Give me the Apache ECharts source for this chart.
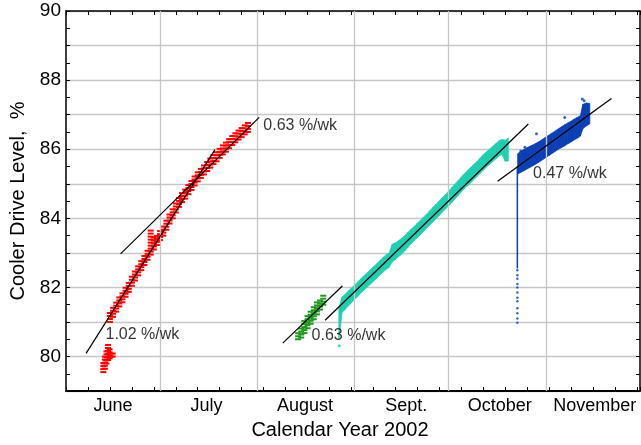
<!DOCTYPE html>
<html><head><meta charset="utf-8">
<script src="https://cdn.jsdelivr.net/npm/echarts@6/dist/echarts.min.js"></script>
<style>html,body{margin:0;padding:0;background:#fff}#c{width:641px;height:445px}</style>
</head><body><div id="c"></div><script>
// x values: days after 1 June 2002
const monthStarts = [30, 61, 92, 122, 153];
const monthLabelPos = [15, 44.8, 76.2, 108.5, 138.3, 168.6];
const monthNames = ['June', 'July', 'August', 'Sept.', 'October', 'November'];

// [day, low, high]
const redEarly = [[11.9,79.55,79.8],[12.4,79.65,80.0],[12.9,79.8,80.2],[13.4,79.9,80.35],[13.9,79.95,80.25],[14.4,80.0,80.15],[14.9,80.0,80.1]];
const redMain = [[14,81.0,81.25],[15,81.15,81.45],[16,81.3,81.6],[17,81.45,81.75],[18,81.57,81.87],[19,81.73,82.03],[20,81.87,82.17],[21,82.05,82.35],[22,82.2,82.5],[23,82.35,82.65],[24,82.5,82.8],[25,82.65,82.95],[26,82.8,83.1],[27,82.95,83.65],[28,83.1,83.5],[29,83.23,83.53],[30,83.37,83.67],[31,83.5,83.8],[32,83.67,83.97],[33,83.85,84.15],[34,84.0,84.3],[35,84.17,84.47],[36,84.33,84.63],[37,84.47,84.77],[38,84.57,84.87],[39,84.7,85.0],[40,84.82,85.12],[41,84.95,85.25],[42,85.07,85.37],[43,85.17,85.47],[44,85.27,85.57],[45,85.37,85.67],[46,85.47,85.77],[47,85.57,85.87],[48,85.65,85.95],[49,85.75,86.05],[50,85.85,86.15],[51,85.93,86.23],[52,86.03,86.33],[53,86.12,86.42],[54,86.2,86.5],[55,86.28,86.58],[56,86.35,86.65],[57,86.43,86.73],[58,86.5,86.77]];
const green = [[74,80.5,80.68],[75,80.55,80.88],[76,80.68,81.02],[77,80.82,81.17],[78,80.95,81.3],[79,81.08,81.43],[80,81.22,81.57],[81,81.36,81.68],[82,81.5,81.75]];
const cyan = [[87,80.5,81.42],[88,81.27,81.72],[89,81.37,81.8],[90,81.46,81.9],[91,81.56,81.98],[92,81.66,82.07],[93,81.74,82.16],[94,81.84,82.25],[95,81.92,82.34],[96,82.01,82.42],[97,82.09,82.51],[98,82.18,82.6],[99,82.26,82.68],[100,82.36,82.77],[101,82.44,82.86],[102,82.52,82.94],[103,82.58,82.99],[104,82.74,83.25],[105,82.81,83.29],[106,82.89,83.35],[107,82.96,83.42],[108,83.06,83.5],[109,83.16,83.59],[110,83.26,83.68],[111,83.36,83.76],[112,83.44,83.86],[113,83.53,83.94],[114,83.62,84.04],[115,83.72,84.12],[116,83.81,84.22],[117,83.9,84.32],[118,83.99,84.41],[119,84.08,84.5],[120,84.18,84.6],[121,84.27,84.69],[122,84.36,84.79],[123,84.46,84.89],[124,84.56,84.99],[125,84.66,85.09],[126,84.76,85.19],[127,84.86,85.29],[128,84.94,85.38],[129,85.03,85.47],[130,85.12,85.56],[131,85.21,85.64],[132,85.3,85.74],[133,85.39,85.84],[134,85.48,85.92],[135,85.56,86.0],[136,85.64,86.08],[137,85.72,86.16],[138,85.8,86.24],[139,85.86,86.28],[140,85.65,86.26],[141,85.66,86.32]];
const cyanOutliers = [[87.1,80.31]];
const blue = [[144,85.28,85.87],[145,85.33,85.94],[146,85.38,85.99],[147,85.43,86.04],[148,85.48,86.09],[149,85.53,86.13],[150,85.58,86.18],[151,85.64,86.23],[152,85.7,86.29],[153,85.76,86.35],[154,85.82,86.41],[155,85.88,86.47],[156,85.94,86.53],[157,86.0,86.59],[158,86.05,86.65],[159,86.1,86.71],[160,86.16,86.76],[161,86.21,86.81],[162,86.27,86.87],[163,86.32,86.92],[164,86.38,86.97],[164.8,86.6,87.3],[166,86.68,87.34],[167,86.74,87.32]];
const blueTailSolid = [[143.9,82.55],[143.9,85.5]];
const blueTailDots = [[143.9,82.5],[143.9,82.35],[143.9,82.25],[143.9,82.1],[143.9,82.0],[143.9,81.85],[143.9,81.7],[143.9,81.6],[143.9,81.4],[143.9,81.25],[143.9,81.1],[143.9,80.98]];
const blueOutliers = [[145,85.95],[146.3,86.06],[150,86.45],[159,86.92],[164.6,87.45],[165.2,87.4]];

// fitted trend lines
const fit1 = [[6.4,80.09],[47.5,85.99]];
const fit2 = [[17.4,82.97],[61.6,86.92]];
const fit3 = [[69.1,80.39],[88.1,82.04]];
const fit4 = [[82.6,81.05],[147.4,86.73]];
const fit5 = [[137.6,85.07],[173.9,87.47]];

const notes = ['1.02 %/wk', '0.63 %/wk', '0.63 %/wk', '0.47 %/wk'];
const noteX = [12.6, 62.9, 78.3, 148.9];
const noteY = [80.64, 86.68, 80.61, 85.29];

const FONT = '"Liberation Sans", Arial, Helvetica, sans-serif';
const RED = '#ff0000', GREEN = '#1e9a1e', CYAN = '#1ecfb0', BLUE = '#0b3fb4';

function bandItem(arr, color) {
  return function (params, api) {
    const i = params.dataIndex;
    if (i >= arr.length - 1) return null;
    const a = arr[i], b = arr[i + 1];
    const pts = [api.coord([a[0], a[1]]), api.coord([b[0], b[1]]), api.coord([b[0], b[2]]), api.coord([a[0], a[2]])];
    return { type: 'polygon', shape: { points: pts }, style: { fill: color, stroke: color, lineWidth: 0.8 } };
  };
}
function dashItem(color) {
  return function (params, api) {
    const p = api.coord([api.value(0), api.value(1)]);
    const top = api.coord([api.value(0), api.value(2)])[1];
    const children = [];
    for (let y = p[1]; y >= top - 0.5; y -= 3) {
      children.push({ type: 'rect', shape: { x: p[0] - 3, y: y - 1, width: 6, height: 2 }, style: { fill: color, stroke: 'none', lineWidth: 0 } });
    }
    return { type: 'group', children: children };
  };
}
function dashSeries(arr, color) {
  return { type: 'custom', data: arr, encode: { x: 0, y: [1, 2] }, renderItem: dashItem(color), clip: true, z: 3, silent: true, itemStyle: { color: color }, label: { show: false } };
}
function bandSeries(arr, color) {
  return { type: 'custom', data: arr, encode: { x: 0, y: [1, 2] }, renderItem: bandItem(arr, color), clip: true, z: 3, silent: true, itemStyle: { color: color }, label: { show: false } };
}
function fitSeries(arr) {
  return { type: 'line', data: arr, symbol: 'none', lineStyle: { color: '#000', width: 1.2 }, z: 6, silent: true };
}
function dotSeries(arr, color, size) {
  return { type: 'scatter', data: arr, symbol: 'circle', symbolSize: size, itemStyle: { color: color }, z: 3, silent: true };
}

const axisCommon = {
  axisLine: { show: true, onZero: false, lineStyle: { color: '#000', width: 1.5 } },
  axisTick: { show: true, inside: true, length: 4, lineStyle: { color: '#000', width: 1 } }
};

const option = {
  animation: false,
  backgroundColor: '#fff',
  grid: { left: 66, top: 11, right: 1, bottom: 52, containLabel: false },
  xAxis: [
    Object.assign({}, axisCommon, {
      type: 'value', min: 0, max: 183, interval: 7, position: 'bottom',
      axisLine: { show: true, onZero: false, lineStyle: { color: '#000', width: 1.8 } },
      splitLine: { show: false },
      axisLabel: { customValues: monthLabelPos, formatter: function (v) { const k = monthLabelPos.indexOf(v); return k >= 0 ? monthNames[k] : ''; }, fontSize: 18, color: '#000', fontFamily: FONT, margin: 6 },
      name: 'Calendar Year 2002', nameLocation: 'middle', nameGap: 28,
      nameTextStyle: { fontSize: 20, color: '#000', fontFamily: FONT, padding: [0, 26, 0, 0] }
    }),
    Object.assign({}, axisCommon, {
      type: 'value', min: 0, max: 183, interval: 7, position: 'top',
      splitLine: { show: false }, axisLabel: { show: false }
    })
  ],
  yAxis: [
    Object.assign({}, axisCommon, {
      type: 'value', min: 79, max: 90, interval: 1, position: 'left',
      minorTick: { show: true, splitNumber: 2, length: 4, lineStyle: { color: '#000', width: 1 } },
      splitLine: { show: true, lineStyle: { color: '#c6c6c6', width: 1.3 } },
      axisLabel: { formatter: function (v) { return v % 2 === 0 ? String(v) : ''; }, fontSize: 19, color: '#000', fontFamily: FONT, margin: 5 },
      name: 'Cooler Drive Level,  %', nameLocation: 'middle', nameGap: 38,
      nameTextStyle: { fontSize: 20, color: '#000', fontFamily: FONT }
    }),
    Object.assign({}, axisCommon, {
      type: 'value', min: 79, max: 90, interval: 1, position: 'right',
      minorTick: { show: true, splitNumber: 2, length: 4, lineStyle: { color: '#000', width: 1 } },
      splitLine: { show: false }, axisLabel: { show: false }
    })
  ],
  series: [
    { type: 'line', data: [], z: 1, silent: true,
      markLine: { silent: true, symbol: ['none', 'none'], label: { show: false },
        lineStyle: { color: '#c6c6c6', width: 1.3, type: 'solid' },
        data: monthStarts.map(function (m) { return { xAxis: m }; }) } },
    dashSeries(redEarly, RED),
    dashSeries(redMain, RED),
    dashSeries(green, GREEN),
    bandSeries(cyan, CYAN),
    dotSeries(cyanOutliers, CYAN, 3),
    bandSeries(blue, BLUE),
    { type: 'line', data: blueTailSolid, symbol: 'none', lineStyle: { color: BLUE, width: 1.5 }, z: 3, silent: true },
    dotSeries(blueTailDots, BLUE, 2.5),
    dotSeries(blueOutliers, BLUE, 3),
    fitSeries(fit1), fitSeries(fit2), fitSeries(fit3), fitSeries(fit4), fitSeries(fit5),
    { type: 'scatter', symbolSize: 0, z: 7, silent: true,
      data: notes.map(function (t, i) { return { name: t, value: [noteX[i], noteY[i]] }; }),
      label: { show: true, position: 'right', distance: 0, formatter: '{b}', fontSize: 16, color: '#000', fontFamily: FONT } }
  ]
};
const chart = echarts.init(document.getElementById('c'), null, { renderer: 'canvas' });
chart.setOption(option);
</script></body></html>
